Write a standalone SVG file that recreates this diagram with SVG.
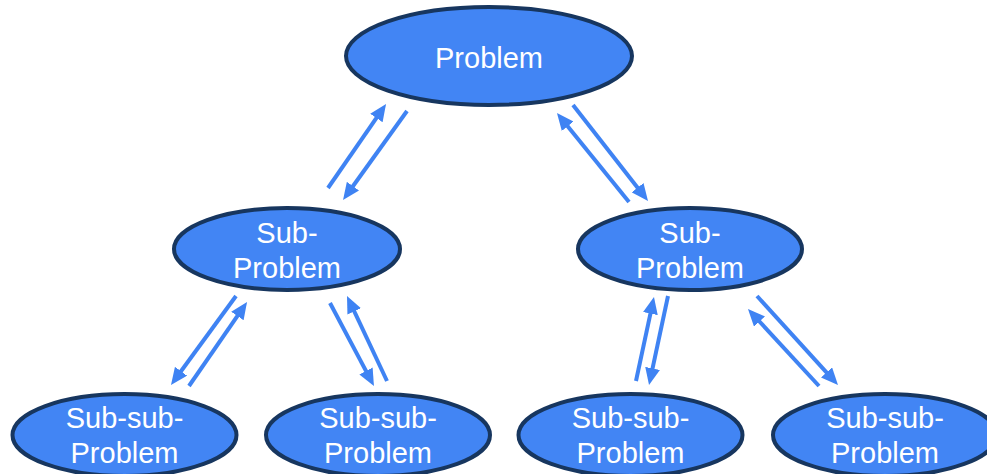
<svg xmlns="http://www.w3.org/2000/svg" width="987" height="474" viewBox="0 0 987 474">
<defs>
<style>
.node ellipse{fill:#4285f4;stroke:#17365f;stroke-width:4}
.node text{fill:#ffffff;font-family:"Liberation Sans",Arial,sans-serif;font-size:29px;text-anchor:middle}
.conn line{stroke:#3f83f3;stroke-width:4;marker-end:url(#ah)}
</style>
<marker id="ah" markerUnits="userSpaceOnUse" markerWidth="17" markerHeight="15" refX="9" refY="7.5" orient="auto" viewBox="0 0 17 15">
<path d="M0,0 L17,7.5 L0,15 z" fill="#3f83f3"/>
</marker>
</defs>
<rect width="987" height="474" fill="#ffffff"/>
<g id="connectors" class="conn">
<line x1="328" y1="188" x2="381.5" y2="110.6"/>
<line x1="407" y1="111" x2="347.7" y2="193.5"/>
<line x1="629" y1="202" x2="562" y2="119.2"/>
<line x1="573" y1="105" x2="643.1" y2="194.7"/>
<line x1="236" y1="296" x2="175.7" y2="378.5"/>
<line x1="189" y1="386" x2="242.5" y2="308.6"/>
<line x1="330" y1="303" x2="370.2" y2="378.9"/>
<line x1="387" y1="381" x2="350.4" y2="303.2"/>
<line x1="636" y1="381" x2="652.3" y2="304.8"/>
<line x1="668" y1="296" x2="650.7" y2="377.2"/>
<line x1="757" y1="296" x2="832.6" y2="379.1"/>
<line x1="819" y1="386" x2="753.4" y2="314.9"/>
</g>
<g id="problem" class="node">
<ellipse cx="489" cy="56" rx="143" ry="49"/>
<text x="489" y="68">Problem</text>
</g>
<g id="sub-left" class="node">
<ellipse cx="287" cy="249" rx="113" ry="41"/>
<text x="287" y="243">Sub-</text>
<text x="287" y="278">Problem</text>
</g>
<g id="sub-right" class="node">
<ellipse cx="690" cy="249" rx="112" ry="41"/>
<text x="690" y="243">Sub-</text>
<text x="690" y="278">Problem</text>
</g>
<g id="subsub-1" class="node">
<ellipse cx="124.5" cy="435" rx="112" ry="41"/>
<text x="124.5" y="428">Sub-sub-</text>
<text x="124.5" y="463">Problem</text>
</g>
<g id="subsub-2" class="node">
<ellipse cx="378" cy="435" rx="112" ry="41"/>
<text x="378" y="428">Sub-sub-</text>
<text x="378" y="463">Problem</text>
</g>
<g id="subsub-3" class="node">
<ellipse cx="630.5" cy="435" rx="112" ry="41"/>
<text x="630.5" y="428">Sub-sub-</text>
<text x="630.5" y="463">Problem</text>
</g>
<g id="subsub-4" class="node">
<ellipse cx="885" cy="435" rx="112" ry="41"/>
<text x="885" y="428">Sub-sub-</text>
<text x="885" y="463">Problem</text>
</g>
</svg>
